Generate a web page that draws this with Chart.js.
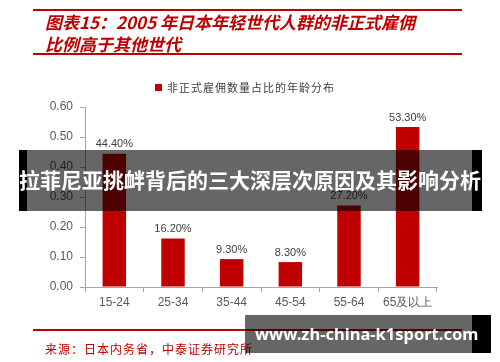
<!DOCTYPE html>
<html>
<head>
<meta charset="utf-8">
<script src="https://cdn.jsdelivr.net/npm/chart.js@4"></script>
<style>
  body { margin: 0; background: #fff; }
  #wrap { position: relative; width: 500px; height: 362px; overflow: hidden; background: #fff; }
  #wrap canvas { position: absolute; left: 0; top: 0; }
  .rule { position: absolute; left: 33px; width: 429px; height: 2px; background: #c00000; }
  .title { position: absolute; left: 45px; color: #c00000; font-family: 'Noto Sans CJK SC', sans-serif;
           font-size: 17px; font-style: italic; font-weight: bold; line-height: 22px; white-space: nowrap; }
  .source { position: absolute; left: 45px; top: 340px; color: #c00000; font-family: 'Noto Sans CJK SC', sans-serif;
            font-size: 12px; letter-spacing: 1px; white-space: nowrap; }
  #legend { position: absolute; top: 80px; left: 0; width: 490px; text-align: center; color: #404040;
            font-family: 'Noto Sans CJK SC', sans-serif; font-size: 11px; line-height: 14px; letter-spacing: 1px; }
  #legend i { display: inline-block; width: 7px; height: 7px; background: #c00000; margin-right: 5px; vertical-align: 1px; }
  .band { position: absolute; background: rgba(0, 0, 0, 0.6); }
  .strip { position: absolute; top: 0; bottom: 0; background: #000; }
  .band span { position: absolute; color: #fff; font-weight: bold; white-space: nowrap; }
</style>
</head>
<body>
<div id="wrap">
  <canvas id="c" width="500" height="362"></canvas>
  <div class="rule" style="top:9px"></div>
  <div class="title" style="top:11px">图表15：2005 年日本年轻世代人群的非正式雇佣<br>比例高于其他世代</div>
  <div class="rule" style="top:53px"></div>
  <div id="legend"></div>
  <div class="rule" style="top:329px"></div>
  <div class="source">来源：日本内务省，中泰证券研究所</div>

  <div class="band" style="left:19px; top:150px; width:463px; height:61px">
    <div class="strip" style="left:0; width:8px"></div>
    <div class="strip" style="right:0; width:10px"></div>
    <span style="left:0; top:16px; font-family:'Noto Sans CJK SC', sans-serif; font-size:21px; line-height:26px">拉菲尼亚挑衅背后的三大深层次原因及其影响分析</span>
  </div>
  <div class="band" style="left:245px; top:315px; width:246px; height:38px">
    <div class="strip" style="right:0; width:19px"></div>
    <span style="left:10px; top:8px; font-family:'Noto Sans', sans-serif; font-size:16.5px; line-height:22px">www.zh-china-k1sport.com</span>
  </div>
</div>

<script>
// age groups and share of non-regular employment (2005, Japan)
const ageGroups = ['15-24', '25-34', '35-44', '45-54', '55-64', '65及以上'];
const shares = [0.444, 0.162, 0.093, 0.083, 0.272, 0.533];
const seriesName = '非正式雇佣数量占比的年龄分布';

const RED = '#c00000';
const AXIS = '#a6a6a6';
const TEXT = '#595959';

document.getElementById('legend').innerHTML = '<i></i>' + seriesName;

// percent labels above each bar
const barLabels = {
  id: 'barLabels',
  afterDatasetsDraw(chart) {
    const ctx = chart.ctx;
    const meta = chart.getDatasetMeta(0);
    ctx.save();
    ctx.font = "11px 'Liberation Sans', Arial, sans-serif";
    ctx.fillStyle = '#404040';
    ctx.textAlign = 'center';
    ctx.textBaseline = 'bottom';
    meta.data.forEach((bar, i) => {
      ctx.fillText((shares[i] * 100).toFixed(2) + '%', bar.x, bar.y - 4);
    });
    ctx.restore();
  },
};

new Chart(document.getElementById('c'), {
  type: 'bar',
  data: {
    labels: ageGroups,
    datasets: [{
      label: seriesName,
      data: shares,
      backgroundColor: RED,
      barPercentage: 0.8,
      categoryPercentage: 0.5,
    }],
  },
  options: {
    responsive: false,
    animation: false,
    devicePixelRatio: 1,
    layout: { padding: { left: 0, right: 63, top: 107, bottom: 0 } },
    plugins: {
      legend: { display: false },
      tooltip: { enabled: false },
    },
    scales: {
      x: {
        grid: { drawOnChartArea: false, tickLength: 5, color: AXIS, offset: true },
        border: { color: AXIS },
        ticks: { color: TEXT, padding: 3, font: { size: 12, family: "'Liberation Sans', Arial, sans-serif" } },
        afterFit(s) { s.height = 75; },
      },
      y: {
        min: 0,
        max: 0.6,
        grid: { drawOnChartArea: false, tickLength: 5, color: AXIS },
        border: { color: AXIS },
        ticks: {
          stepSize: 0.1,
          color: TEXT,
          padding: 7,
          font: { size: 12, family: "'Liberation Sans', Arial, sans-serif" },
          callback: (v) => v.toFixed(2),
        },
        afterFit(s) { s.width = 85; },
      },
    },
  },
  plugins: [barLabels],
});
</script>
</body>
</html>
